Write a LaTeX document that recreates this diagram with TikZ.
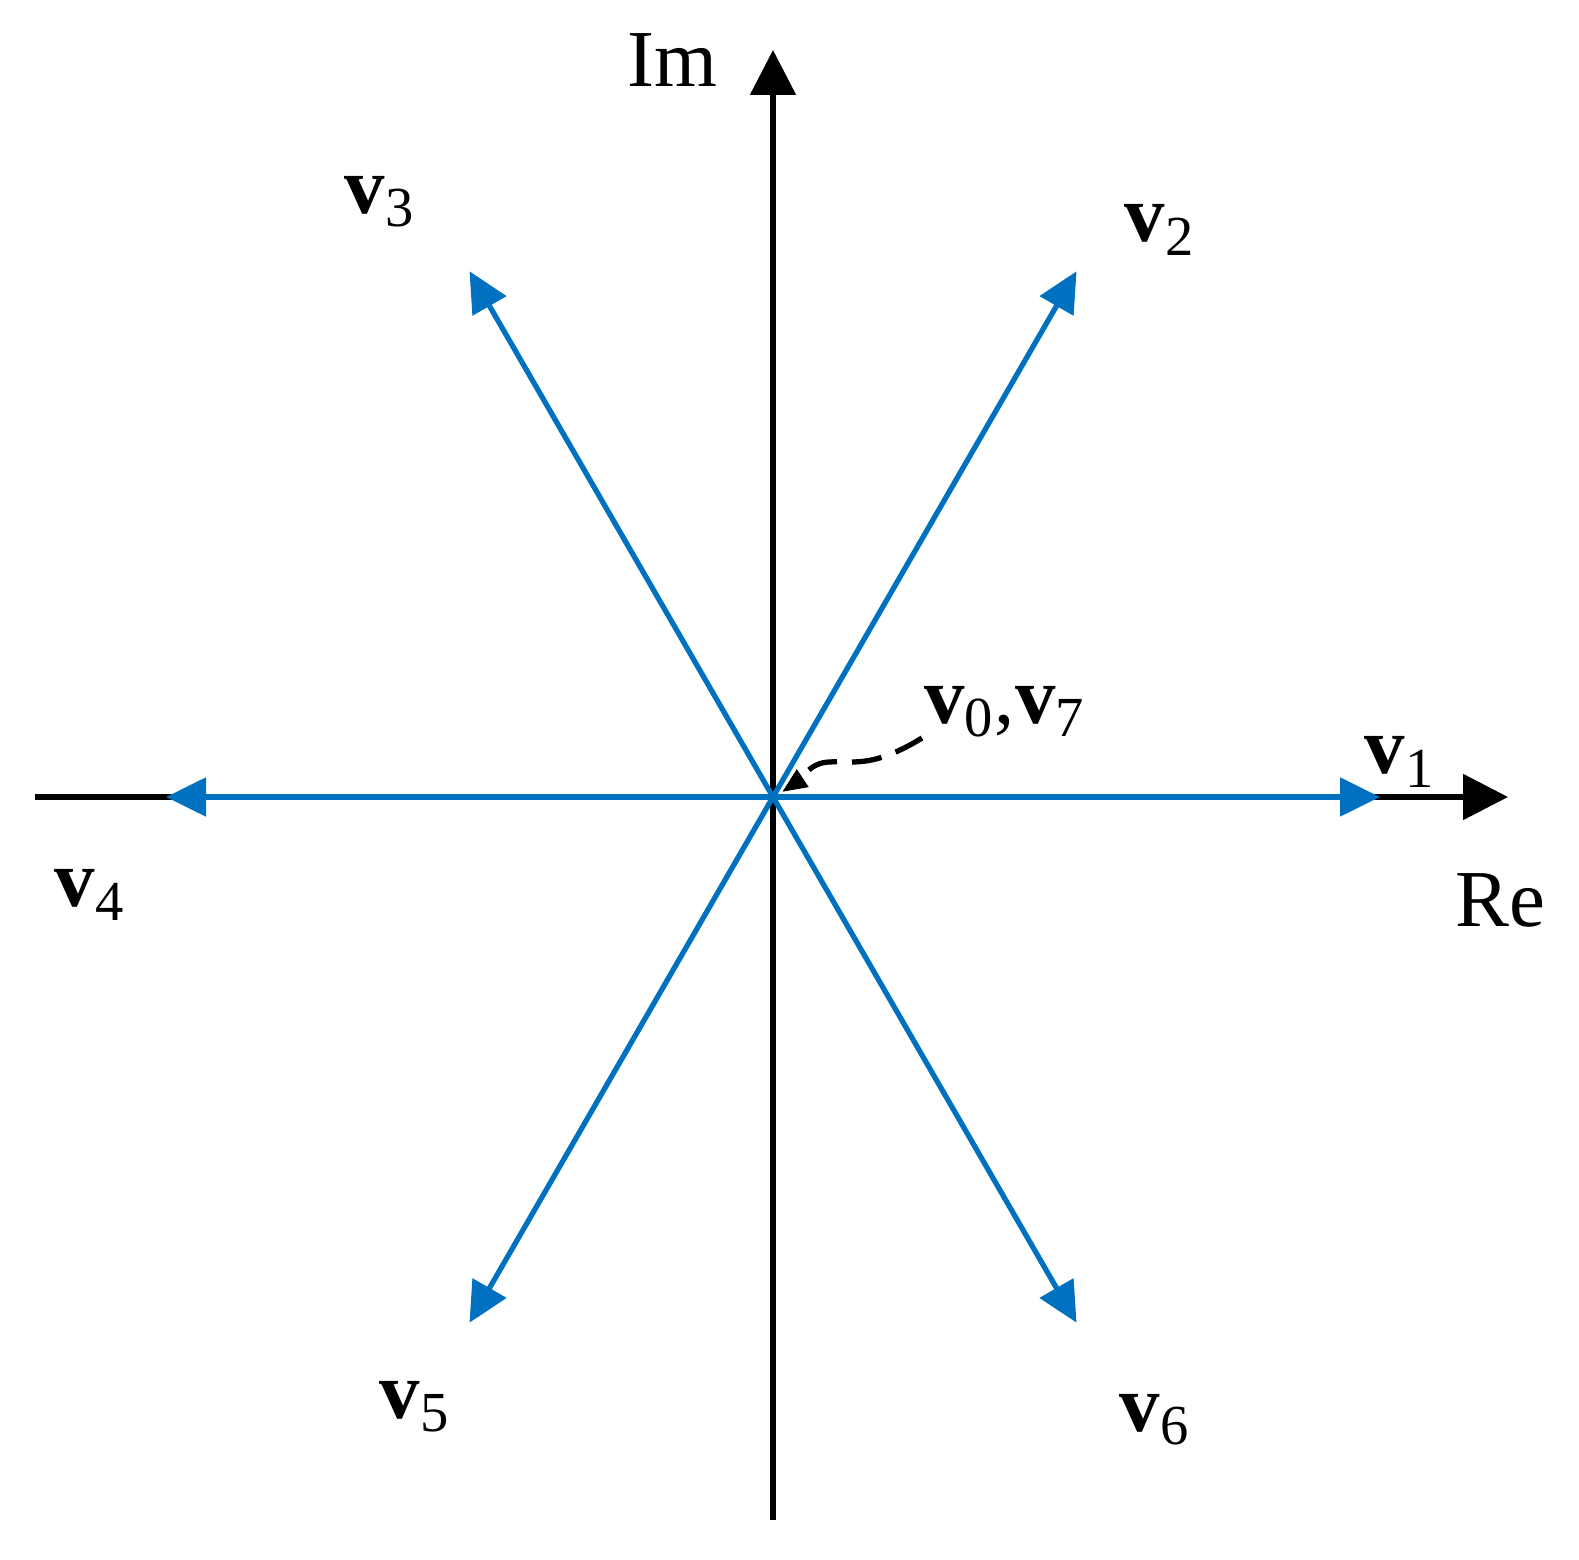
\documentclass[tikz,border=0pt]{standalone}
\usepackage{fontspec}
\setmainfont{Liberation Serif}
\usetikzlibrary{arrows.meta}
\definecolor{vblue}{RGB}{0,112,192}
\tikzset{
 axis/.style={line width=1.5pt,black,-{Triangle[length=0.45cm,width=0.45cm]}},
 vec/.style={line width=1.5pt,vblue,-{Triangle[length=0.4cm,width=0.38cm]}},
 lbl/.style={font=\fontsize{23}{27}\selectfont,inner sep=0pt}
}
\newcommand{\vv}[1]{\textbf{v}$_{\mathrm{#1}}$}
\begin{document}
\begin{tikzpicture}
\useasboundingbox (0,0) rectangle (15.79,-15.60);
\coordinate (O) at (7.73,-7.97);
\coordinate (ybot) at (7.73,-15.20);
\coordinate (ytop) at (7.73,-0.50);
\coordinate (xl) at (0.35,-7.97);
\coordinate (xr) at (15.08,-7.97);
\draw[line width=1.5pt] (xl) -- (O);
\draw[axis] (O) -- (xr);
\draw[axis] (ybot) -- (ytop);
\foreach \a/\n in {0/1,60/2,120/3,180/4,240/5,300/6}
  \draw[vec] (O) -- ++(\a:6.07) coordinate (t\n);
\node[lbl] (im) at (6.72,-0.60) {Im};
\node[lbl] (re) at (15.0,-9.00) {Re};
\node[lbl] (v1) at (14.0,-7.62) {\vv{1}};
\node[lbl] (v2) at (11.60,-2.30) {\vv{2}};
\node[lbl] (v3) at (3.80,-2.02) {\vv{3}};
\node[lbl] (v4) at (0.90,-8.95) {\vv{4}};
\node[lbl] (v5) at (4.15,-14.07) {\vv{5}};
\node[lbl] (v6) at (11.55,-14.20) {\vv{6}};
\node[lbl] (v07) at (10.05,-7.12) {\vv{0},\vv{7}};
\draw[line width=1.5pt,dashed,dash pattern=on 0.3cm off 0.15cm,-{Triangle[length=0.25cm,width=0.2cm]}]
  (9.22,-7.38) .. controls (8.7,-7.7) and (8.5,-7.6) .. (8.3,-7.62) .. controls (8.1,-7.62) and (8.0,-7.8) .. (7.82,-7.92);
\end{tikzpicture}
\end{document}
